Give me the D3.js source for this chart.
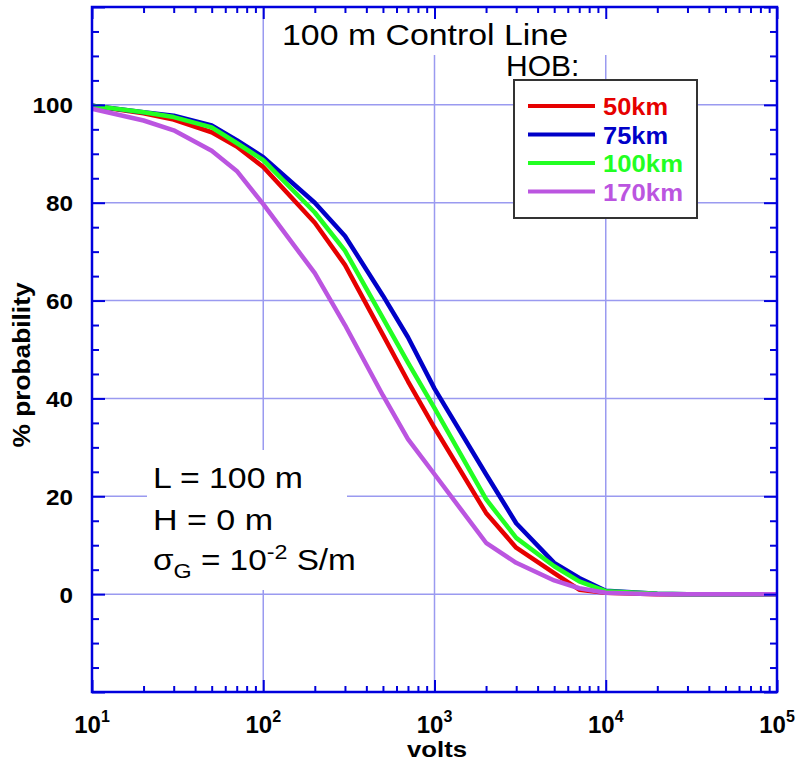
<!DOCTYPE html>
<html>
<head>
<meta charset="utf-8">
<script src="https://cdn.jsdelivr.net/npm/d3@7"></script>
<style>
  body { margin: 0; background: #fff; }
  text { font-family: "Liberation Sans", Arial, sans-serif; }
</style>
</head>
<body>
<svg class="chart" width="798" height="770"></svg>
<script>
// chart values
var volts = [10, 20, 30, 50, 70, 100, 200, 300, 500, 700, 1000, 2000, 3000, 5000, 7000, 10000, 20000, 30000, 50000, 70000, 100000];
var p50km = [99.8, 98.3, 97.0, 94.4, 91.5, 87.3, 75.9, 67.3, 53.0, 43.5, 34.0, 16.6, 9.5, 4.3, 0.9, 0.3, 0, 0, 0, 0, 0];
var p75km = [99.8, 98.5, 97.8, 95.8, 92.8, 89.3, 80.0, 73.2, 61.0, 52.5, 42.0, 24.5, 14.5, 6.4, 3.3, 0.7, 0.1, 0, 0, 0, 0];
var p100km = [99.8, 98.5, 97.5, 95.4, 92.2, 88.7, 78.0, 70.2, 56.4, 47.3, 38.0, 19.4, 11.5, 5.7, 2.6, 0.6, 0.1, 0, 0, 0, 0];
var p170km = [99.2, 96.8, 94.8, 90.6, 86.5, 79.7, 65.6, 55.0, 40.6, 31.7, 24.5, 10.5, 6.4, 2.8, 1.2, 0.3, 0, 0, 0, 0, 0];
var seriesNames = ["50km", "75km", "100km", "170km"];
var seriesColors = ["#e60000", "#0000c8", "#22ff22", "#bb55e0"];
var yTickLabels = [0, 20, 40, 60, 80, 100];
var xDecades = [1, 2, 3, 4, 5];

var svg = d3.select("svg.chart");
var plotL = 92, plotR = 777, plotT = 7, plotB = 692;
var frameColor = "#0000dd";
var gridColor = "#9a9af0";

var x = d3.scaleLog().domain([10, 100000]).range([plotL, plotR]);
var y = d3.scaleLinear().domain([-20, 120]).range([plotB, plotT]);

var majorX = xDecades.map(function (d) { return Math.pow(10, d); });
var minorX = x.ticks().filter(function (v) { return majorX.indexOf(v) < 0; });
var majorY = d3.range(-20, 121, 20);
var minorY = d3.range(-20, 121, 5).filter(function (v) { return v % 20 !== 0; });

// grid
svg.append("g").selectAll("line.vgrid")
    .data(majorX.slice(1, -1))
    .enter().append("line")
    .attr("x1", function (d) { return x(d); })
    .attr("x2", function (d) { return x(d); })
    .attr("y1", plotT).attr("y2", plotB)
    .attr("stroke", gridColor).attr("stroke-width", 1.5);
svg.append("g").selectAll("line.hgrid")
    .data(yTickLabels)
    .enter().append("line")
    .attr("x1", plotL).attr("x2", plotR)
    .attr("y1", function (d) { return y(d); })
    .attr("y2", function (d) { return y(d); })
    .attr("stroke", gridColor).attr("stroke-width", 1.5);

// white boxes behind the text blocks
svg.append("rect").attr("x", 272).attr("y", 9).attr("width", 345).attr("height", 46).attr("fill", "#fff");
svg.append("rect").attr("x", 147).attr("y", 450).attr("width", 200).attr("height", 140).attr("fill", "#fff");

// curves
var allSeries = [p50km, p75km, p100km, p170km];
var line = d3.line()
    .x(function (d, i) { return x(volts[i]); })
    .y(function (d) { return y(d); });
svg.append("g").selectAll("path.curve")
    .data(allSeries)
    .enter().append("path")
    .attr("d", line)
    .attr("fill", "none")
    .attr("stroke", function (d, i) { return seriesColors[i]; })
    .attr("stroke-width", 4.5)
    .attr("stroke-linejoin", "round");

// ticks (inward) on all four sides
function tickGroup(axis, tx, ty) {
    var g = svg.append("g").attr("transform", "translate(" + tx + "," + ty + ")").call(axis);
    g.selectAll("line").attr("stroke", frameColor).attr("stroke-width", 2);
    g.select(".domain").remove();
    g.selectAll("text").remove();
}
tickGroup(d3.axisBottom(x).tickValues(minorX).tickSize(-6), 0, plotB);
tickGroup(d3.axisBottom(x).tickValues(majorX).tickSize(-12), 0, plotB);
tickGroup(d3.axisTop(x).tickValues(minorX).tickSize(-6), 0, plotT);
tickGroup(d3.axisTop(x).tickValues(majorX).tickSize(-12), 0, plotT);
tickGroup(d3.axisLeft(y).tickValues(minorY).tickSize(-7), plotL, 0);
tickGroup(d3.axisLeft(y).tickValues(majorY).tickSize(-13), plotL, 0);
tickGroup(d3.axisRight(y).tickValues(minorY).tickSize(-7), plotR, 0);
tickGroup(d3.axisRight(y).tickValues(majorY).tickSize(-13), plotR, 0);

svg.append("rect")
    .attr("x", plotL).attr("y", plotT)
    .attr("width", plotR - plotL).attr("height", plotB - plotT)
    .attr("fill", "none").attr("stroke", frameColor).attr("stroke-width", 2.5);

// y tick labels
svg.append("g").selectAll("text.ylab")
    .data(yTickLabels)
    .enter().append("text")
    .attr("x", 73)
    .attr("y", function (d) { return y(d) + 8.5; })
    .attr("text-anchor", "end")
    .attr("font-size", 22).attr("font-weight", "bold")
    .attr("textLength", function (d) { return String(d).length * 13.5; })
    .attr("lengthAdjust", "spacingAndGlyphs")
    .text(function (d) { return d; });

// x tick labels: 10 with superscript exponent
var xlab = svg.append("g").selectAll("text.xlab")
    .data(xDecades)
    .enter().append("text")
    .attr("x", function (d) { return x(Math.pow(10, d)); })
    .attr("y", 733)
    .attr("text-anchor", "middle")
    .attr("font-weight", "bold");
xlab.append("tspan").attr("font-size", 24).text("10");
xlab.append("tspan").attr("font-size", 16).attr("dy", -11).text(function (d) { return d; });

// axis titles
svg.append("text")
    .attr("x", 437).attr("y", 757)
    .attr("text-anchor", "middle")
    .attr("font-size", 22).attr("font-weight", "bold")
    .attr("textLength", 60).attr("lengthAdjust", "spacingAndGlyphs")
    .text("volts");
svg.append("text")
    .attr("transform", "translate(30,365) rotate(-90)")
    .attr("text-anchor", "middle")
    .attr("font-size", 23).attr("font-weight", "bold")
    .attr("textLength", 165).attr("lengthAdjust", "spacingAndGlyphs")
    .text("% probability");

// title and HOB
svg.append("text")
    .attr("x", 425).attr("y", 45)
    .attr("text-anchor", "middle")
    .attr("font-size", 30)
    .attr("textLength", 286).attr("lengthAdjust", "spacingAndGlyphs")
    .text("100 m Control Line");
svg.append("text")
    .attr("x", 506).attr("y", 76)
    .attr("font-size", 30)
    .text("HOB:");

// legend
var legend = svg.append("g");
legend.append("rect")
    .attr("x", 514).attr("y", 80).attr("width", 183).attr("height", 138)
    .attr("fill", "#fff").attr("stroke", "#333").attr("stroke-width", 2);
var rows = legend.selectAll("g.row")
    .data(seriesNames)
    .enter().append("g")
    .attr("transform", function (d, i) { return "translate(0," + (106 + i * 28.5) + ")"; });
rows.append("line")
    .attr("x1", 528).attr("x2", 595)
    .attr("stroke", function (d, i) { return seriesColors[i]; })
    .attr("stroke-width", 4);
rows.append("text")
    .attr("x", 603).attr("y", 9)
    .attr("font-size", 24).attr("font-weight", "bold")
    .attr("fill", function (d, i) { return seriesColors[i]; })
    .attr("textLength", function (d) { return d.length === 4 ? 65 : 80; })
    .attr("lengthAdjust", "spacingAndGlyphs")
    .text(function (d) { return d; });

// annotation
svg.append("text")
    .attr("x", 153).attr("y", 488)
    .attr("font-size", 30)
    .attr("textLength", 150).attr("lengthAdjust", "spacingAndGlyphs")
    .text("L = 100 m");
svg.append("text")
    .attr("x", 153).attr("y", 530)
    .attr("font-size", 30)
    .attr("textLength", 120).attr("lengthAdjust", "spacingAndGlyphs")
    .text("H = 0 m");
var sigma = svg.append("g")
    .attr("transform", "translate(153,570) scale(1.11,1)")
    .append("text")
    .attr("x", 0).attr("y", 0)
    .attr("font-size", 30);
sigma.append("tspan").text("\u03c3");
sigma.append("tspan").attr("font-size", 21).attr("dy", 8).text("G");
sigma.append("tspan").attr("dy", -8).text(" = 10");
sigma.append("tspan").attr("font-size", 21).attr("dy", -11).text("-2");
sigma.append("tspan").attr("dy", 11).text(" S/m");
</script>
</body>
</html>
